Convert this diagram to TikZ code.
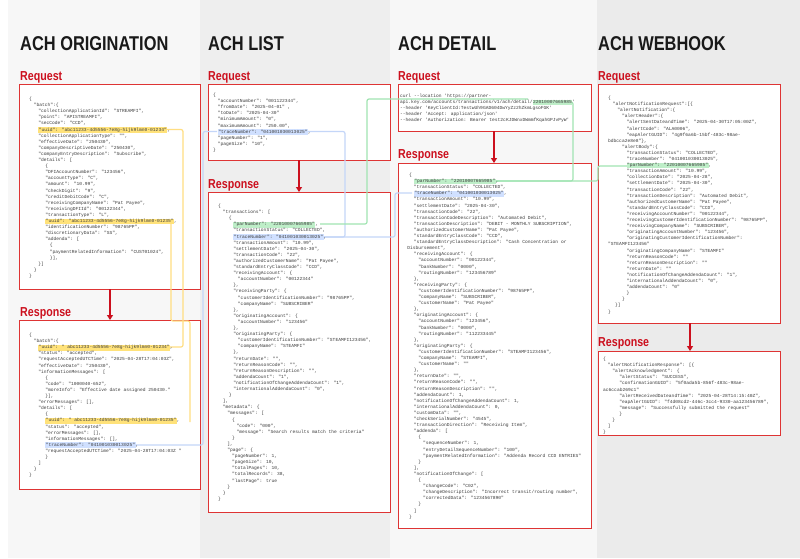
\documentclass[tikz,border=0pt]{standalone}
\usepackage{fontspec}
\usetikzlibrary{arrows.meta}
\newfontfamily\codefont{Liberation Mono}
\newfontfamily\titlefont{Liberation Sans Bold}[FakeStretch=0.82]
\definecolor{achred}{RGB}{204,16,30}
\definecolor{boxred}{RGB}{222,52,52}
\definecolor{hlY}{RGB}{255,226,122}
\definecolor{hlB}{RGB}{208,224,255}
\definecolor{hlG}{RGB}{190,238,200}
\definecolor{lnY}{RGB}{255,222,130}
\definecolor{lnB}{RGB}{196,214,248}
\definecolor{lnG}{RGB}{160,228,178}
\definecolor{codegray}{RGB}{60,60,60}
\newdimen\indu \indu=4.6pt
\newcommand\ind[1]{\hspace*{#1\indu}}
\newcommand\hl[2]{{\setlength{\fboxsep}{0.5pt}\colorbox{#1}{\rule[-1.3pt]{0pt}{4.7pt}#2}}}
\AtBeginDocument{\lineskiplimit=-20pt\relax}
\tikzset{
  ttl/.style={anchor=base west,inner sep=0,font=\titlefont\fontsize{20}{22}\selectfont,text=black!90},
  lbl/.style={anchor=base west,inner sep=0,font=\titlefont\fontsize{13}{15}\selectfont,text=achred},
  box/.style={draw=boxred,line width=1.2pt,fill=white,anchor=north west,inner sep=0},
  code/.style={anchor=north west,inner sep=0,align=left,text=codegray,
    font=\codefont\fontsize{4.6}{6.1}\selectfont},
  flow/.style={draw=achred,line width=1.3pt,-{Triangle[length=5pt,width=6pt]}},
  connY/.style={draw=lnY,line width=1.2pt,rounded corners=2pt},
  connB/.style={draw=lnB,line width=1.2pt,rounded corners=2pt},
  connG/.style={draw=lnG,line width=1.2pt,rounded corners=2pt},
}
\begin{document}
\begin{tikzpicture}[x=1pt,y=-1pt]
\useasboundingbox (0,0) rectangle (800,558);
\fill[white] (0,0) rectangle (800,558);
\fill[black!3] (8,0) rectangle (200,558);
\fill[black!6.5] (200,0) rectangle (390,558);
\fill[black!3] (390,0) rectangle (597,558);
\fill[black!8] (597,0) rectangle (800,558);
% titles
\node[ttl] (t1) at (20,50) {ACH ORIGINATION};
\node[ttl] (t2) at (208,50) {ACH LIST};
\node[ttl] (t3) at (398,50) {ACH DETAIL};
\node[ttl] (t4) at (598,50) {ACH WEBHOOK};
% labels
\node[lbl] (l1a) at (20,80.5) {Request};
\node[lbl] (l1b) at (20,316) {Response};
\node[lbl] (l2a) at (208,80) {Request};
\node[lbl] (l2b) at (208,188) {Response};
\node[lbl] (l3a) at (398,80) {Request};
\node[lbl] (l3b) at (398,158) {Response};
\node[lbl] (l4a) at (598,80) {Request};
\node[lbl] (l4b) at (598,346.5) {Response};
% boxes
\node[box,minimum width=181pt,minimum height=205pt] (oreq) at (19,84) {};
\node[box,minimum width=181pt,minimum height=169pt] (oresp) at (19,320) {};
\node[box,minimum width=182pt,minimum height=76pt] (lreq) at (208,84) {};
\node[box,minimum width=182pt,minimum height=320pt] (lresp) at (208,192) {};
\node[box,minimum width=193pt,minimum height=47pt] (dreq) at (398,84) {};
\node[box,minimum width=193pt,minimum height=365pt] (dresp) at (398,163) {};
\node[box,minimum width=182pt,minimum height=239pt] (wreq) at (598,84) {};
\node[box,minimum width=182pt,minimum height=84pt] (wresp) at (598,351) {};
% flow arrows
\coordinate (a1s) at (110,289); \coordinate (a1e) at (110,320);
\coordinate (a2s) at (299,160); \coordinate (a2e) at (299,192);
\coordinate (a3s) at (494,131); \coordinate (a3e) at (494,163);
\coordinate (a4s) at (690,323); \coordinate (a4e) at (690,351);
\draw[flow] (a1s) -- (a1e);
\draw[flow] (a2s) -- (a2e);
\draw[flow] (a3s) -- (a3e);
\draw[flow] (a4s) -- (a4e);
% connector points
\coordinate (y1a) at (166,129.5); \coordinate (y1b) at (183,129.5); \coordinate (y1c) at (183,347); \coordinate (y1d) at (169,347);
\coordinate (y2a) at (171,221); \coordinate (y2b) at (171,321); \coordinate (y2c) at (190,321); \coordinate (y2d) at (190,422);
\coordinate (b1a) at (132,445); \coordinate (b1b) at (203,445); \coordinate (b1c) at (203,131.5); \coordinate (b1d) at (217,131.5);
\coordinate (b2a) at (306,131.5); \coordinate (b2b) at (345,131.5); \coordinate (b2c) at (345,237); \coordinate (b2d) at (322,237);
\coordinate (b3b) at (395,237); \coordinate (b3c) at (395,193); \coordinate (b3d) at (412,193);
\coordinate (g1a) at (320,224); \coordinate (g1b) at (367,224); \coordinate (g1c) at (367,99); \coordinate (g1d) at (528,99);
\coordinate (g2a) at (568,102); \coordinate (g2b) at (573,102); \coordinate (g2c) at (573,181); \coordinate (g2d) at (493,181);
\coordinate (g3b) at (598,181); \coordinate (g3c) at (598,166); \coordinate (g3d) at (628,166);
\draw[connY] (y1a) -- (y1b) -- (y1c) -- (y1d);
\draw[connY] (y2a) -- (y2b) -- (y2c) -- (y2d);
\draw[connB] (b1a) -- (b1b) -- (b1c) -- (b1d);
\draw[connB] (b2a) -- (b2b) -- (b2c) -- (b2d);
\draw[connB] (b2d) -- (b3b) -- (b3c) -- (b3d);
\draw[connG] (g1a) -- (g1b) -- (g1c) -- (g1d);
\draw[connG] (g2a) -- (g2b) -- (g2c) -- (g2d);
\draw[connG] (g2d) -- (g3b) -- (g3c) -- (g3d);
% ---------- code: origination request
\node[code] (c1) at (29,97) {%
\ind0\{\\
\ind1"batch":\{\\
\ind2"collectionApplicationId": "STREAMFI",\\
\ind2"point": "APISTREAMFI",\\
\ind2"secCode": "CCD",\\
\ind2\hl{hlY}{"uuid": "abc11233-4d5556-7e8g-hijk9lmn0-01234"},\\
\ind2"collectionApplicationType": "",\\
\ind2"effectiveDate": "250430",\\
\ind2"companyDescriptiveDate": "250430",\\
\ind2"companyEntryDescription": "Subscribe",\\
\ind2"details": [\\
\ind{3.5}\{\\
\ind{3.5}"DFIAccountNumber": "123456",\\
\ind{3.5}"accountType": "C",\\
\ind{3.5}"amount": "10.99",\\
\ind{3.5}"checkDigit": "9",\\
\ind{3.5}"creditDebitCode": "C",\\
\ind{3.5}"receivingCompanyName": "Pat Payee",\\
\ind{3.5}"receivingDFIId": "00122344",\\
\ind{3.5}"transactionType": "L",\\
\ind{3.5}\hl{hlY}{"uuid": "abc11233-4d5556-7e8g-hijk9lmn0-01235"},\\
\ind{3.5}"identificationNumber": "98765PP",\\
\ind{3.5}"discretionaryData": "SS",\\
\ind{3.5}"addenda": [\\
\ind{4.5}\{\\
\ind{4.5}"paymentRelatedInformation": "CUST01024",\\
\ind{4.5}\}],\\
\ind{2}\}]\\
\ind{1}\}\\
\ind0\}};
% ---------- origination response
\node[code] (c2) at (29,333) {%
\ind0\{\\
\ind1"batch":\{\\
\ind2\hl{hlY}{"uuid": " abc11233-4d5556-7e8g-hijk9lmn0-01234"},\\
\ind2"status": "accepted",\\
\ind2"requestAcceptedUTCTime": "2025-04-28T17:04:03Z",\\
\ind2"effectiveDate": "250430",\\
\ind2"informationMessages": [\\
\ind{3.5}\{\\
\ind{3.5}"code": "1000040-652",\\
\ind{3.5}"moreInfo": "Effective date assigned 250430."\\
\ind{3.5}\}],\\
\ind2"errorMessages": [],\\
\ind2"details": [\\
\ind{3.5}\{\\
\ind{3.5}\hl{hlY}{"uuid": " abc11233-4d5556-7e8g-hijk9lmn0-01235"},\\
\ind{3.5}"status": "accepted",\\
\ind{3.5}"errorMessages": [],\\
\ind{3.5}"informationMessages": [],\\
\ind{3.5}\hl{hlB}{"traceNumber": "041001030013025"},\\
\ind{3.5}"requestAcceptedUTCTime": "2025-04-28T17:04:03Z "\\
\ind{3.5}\}\\
\ind{2}]\\
\ind{1}\}\\
\ind0\}};
% ---------- list request
\node[code] (c3) at (213,93) {%
\ind0\{\\
\ind1"accountNumber": "001122344",\\
\ind1"fromDate": "2025-04-01" ,\\
\ind1"toDate": "2025-04-30"\\
\ind1"minimumAmount": "0",\\
\ind1"maximumAmount": "250.00",\\
\ind1\hl{hlB}{"traceNumber": "041001030013025"},\\
\ind1"pageNumber": "1",\\
\ind1"pageSize": "10",\\
\ind0\}};
% ---------- list response
\node[code] (c4) at (218,204) {%
\ind0\{\\
\ind1"transactions": [\\
\ind{2.3}\{\\
\ind{3.3}\hl{hlG}{"parNumber": "22010007665985"},\\
\ind{3.3}"transactionStatus": "COLLECTED",\\
\ind{3.3}\hl{hlB}{"traceNumber": "041001030013025"},\\
\ind{3.3}"transactionAmount": "10.99",\\
\ind{3.3}"settlementDate": "2025-04-30",\\
\ind{3.3}"transactionCode": "22",\\
\ind{3.3}"authorizedCustomerName": "Pat Payee",\\
\ind{3.3}"standardEntryClassCode": "CCD",\\
\ind{3.3}"receivingAccount": \{\\
\ind{4.3}"accountNumber": "00122344"\\
\ind{3.3}\},\\
\ind{3.3}"receivingParty": \{\\
\ind{4.3}"customerIdentificationNumber": "98765PP",\\
\ind{4.3}"companyName": "SUBSCRIBER"\\
\ind{3.3}\},\\
\ind{3.3}"originatingAccount": \{\\
\ind{4.3}"accountNumber": "123456"\\
\ind{3.3}\},\\
\ind{3.3}"originatingParty": \{\\
\ind{4.3}"customerIdentificationNumber": "STEAMFI123456",\\
\ind{4.3}"companyName": "STEAMFI"\\
\ind{3.3}\},\\
\ind{3.3}"returnDate": "",\\
\ind{3.3}"returnReasonCode": "",\\
\ind{3.3}"returnReasonDescription": "",\\
\ind{3.3}"addendaCount": "1",\\
\ind{3.3}"notificationOfChangeAddendaCount": "1",\\
\ind{3.3}"internationalAddendaCount": "0",\\
\ind{2.3}\}\\
\ind{1}],\\
\ind{1}"metadata": \{\\
\ind{2}"messages": [\\
\ind{3}\{\\
\ind{4}"code": "000",\\
\ind{4}"message": "Search results match the criteria"\\
\ind{3}\}\\
\ind{2}],\\
\ind{2}"page": \{\\
\ind{3}"pageNumber": 1,\\
\ind{3}"pageSize": 10,\\
\ind{3}"totalPages": 10,\\
\ind{3}"totalRecords": 38,\\
\ind{3}"lastPage": true\\
\ind{2}\}\\
\ind{1}\}\\
\ind0\}};
% ---------- detail request
\node[code] (c5) at (400,94) {%
\ind0curl --location 'https://partner-\\
\ind0api.key.com/accounts/transactions/v1/ach/detail/\hl{hlG}{22010007665985}'\\
\ind0--header 'KeyClientId:TestwUh9GAD604DwYyZz2hZkmLgsoFGK'\\
\ind0--header 'Accept: application/json'\\
\ind0--header 'Authorization: Bearer test2cKJDWnxDWmmfKqahGPJvPyW'};
% ---------- detail response
\node[code] (c6) at (409,173) {%
\ind0\{\\
\ind1\hl{hlG}{"parNumber": "22010007665985"},\\
\ind1"transactionStatus": "COLLECTED",\\
\ind1\hl{hlB}{"traceNumber": "041001030013025"},\\
\ind1"transactionAmount": "10.99",\\
\ind1"settlementDate": "2025-04-30",\\
\ind1"transactionCode": "22",\\
\ind1"transactionCodeDescription": "Automated Debit",\\
\ind1"transactionDescription": "DEBIT - MONTHLY SUBSCRIPTION",\\
\ind1"authorizedCustomerName": "Pat Payee",\\
\ind1"standardEntryClassCode": "CCD",\\
\ind1"standardEntryClassDescription": "Cash Concentration or\\
\ind{-0.4}Disbursement",\\
\ind1"receivingAccount": \{\\
\ind2"accountNumber": "00122344",\\
\ind2"bankNumber": "0000",\\
\ind2"routingNumber": "123456789"\\
\ind1\},\\
\ind1"receivingParty": \{\\
\ind2"customerIdentificationNumber": "98765PP",\\
\ind2"companyName": "SUBSCRIBER",\\
\ind2"customerName": "Pat Payee"\\
\ind1\},\\
\ind1"originatingAccount": \{\\
\ind2"accountNumber": "123456",\\
\ind2"bankNumber": "0000",\\
\ind2"routingNumber": "112233445"\\
\ind1\},\\
\ind1"originatingParty": \{\\
\ind2"customerIdentificationNumber": "STEAMFI123456",\\
\ind2"companyName": "STEAMFI",\\
\ind2"customerName": ""\\
\ind1\},\\
\ind1"returnDate": "",\\
\ind1"returnReasonCode": "",\\
\ind1"returnReasonDescription": "",\\
\ind1"addendaCount": 1,\\
\ind1"notificationOfChangeAddendaCount": 1,\\
\ind1"internationalAddendaCount": 0,\\
\ind1"customData": "",\\
\ind1"checkSerialNumber": "4545",\\
\ind1"transactionDirection": "Receiving Item",\\
\ind1"addenda": [\\
\ind2\{\\
\ind3"sequenceNumber": 1,\\
\ind3"entryDetailSequenceNumber": "100",\\
\ind3"paymentRelatedInformation": "Addenda Record CCD ENTRIES"\\
\ind2\}\\
\ind1],\\
\ind1"notificationOfChange": [\\
\ind2\{\\
\ind3"changeCode": "C02",\\
\ind3"changeDescription": "Incorrect transit/routing number",\\
\ind3"correctedData": "1234567890"\\
\ind2\}\\
\ind1]\\
\ind0\}};
% ---------- webhook request
\node[code] (c7) at (608,96) {%
\ind0\{\\
\ind1"alertNotificationRequest":[\{\\
\ind2"alertNotification":\{\\
\ind3"alertHeader":\{\\
\ind4"alertSentDateandTime": "2025-04-30T17:05:00Z",\\
\ind4"alertCode": "ALA0006",\\
\ind4"eapAlertGUID": "4g9f6a6b-15bf-483c-98ae-\\
\ind0bdbcca2e8e8"\},\\
\ind3"alertBody":\{\\
\ind4"transactionStatus": "COLLECTED",\\
\ind4"traceNumber": "041001030013025",\\
\ind4\hl{hlG}{"parNumber": "22010007665985"},\\
\ind4"transactionAmount": "10.99",\\
\ind4"collectionDate": "2025-04-28",\\
\ind4"settlementDate": "2025-04-30",\\
\ind4"transactionCode": "22",\\
\ind4"transactionDescription": "Automated Debit",\\
\ind4"authorizedCustomerName": "Pat Payee",\\
\ind4"standardEntryClassCode": "CCD",\\
\ind4"receivingAccountNumber": "00122344",\\
\ind4"receivingCustomerIdentificationNumber": "98765PP",\\
\ind4"receivingCompanyName": "SUBSCRIBER",\\
\ind4"originatingAccountNumber": "123456",\\
\ind4"originatingCustomerIdentificationNumber":\\
\ind0"STEAMFI123456"\\
\ind4"originatingCompanyName": "STEAMFI"\\
\ind4"returnReasonCode": ""\\
\ind4"returnReasonDescription": ""\\
\ind4"returnDate": ""\\
\ind4"notificationOfChangeAddendaCount": "1",\\
\ind4"internationalAddendaCount": "0",\\
\ind4"addendaCount": "0"\\
\ind4\}\\
\ind3\}\\
\ind{1.5}\}]\\
\ind0\}};
% ---------- webhook response
\node[code] (c8) at (603,357) {%
\ind0\{\\
\ind1"alertNotificationResponse": [\{\\
\ind2"alertAcknowledgment": \{\\
\ind{3.5}"alertStatus": "SUCCESS",\\
\ind{3.5}"confirmationGUID": "5f0ada5b-856f-483c-98ae-\\
\ind0ac6ccab269c1"\\
\ind{3.5}"alertReceivedDateandTime": "2025-04-28T14:15:40Z",\\
\ind{3.5}"eapAlertGUID": "f4d08cd2-446c-3cc4-9330-aa123456789",\\
\ind{3.5}"message": "Successfully submitted the request"\\
\ind{3.5}\}\\
\ind2\}\\
\ind1]\\
\ind0\}};
\end{tikzpicture}
\end{document}
